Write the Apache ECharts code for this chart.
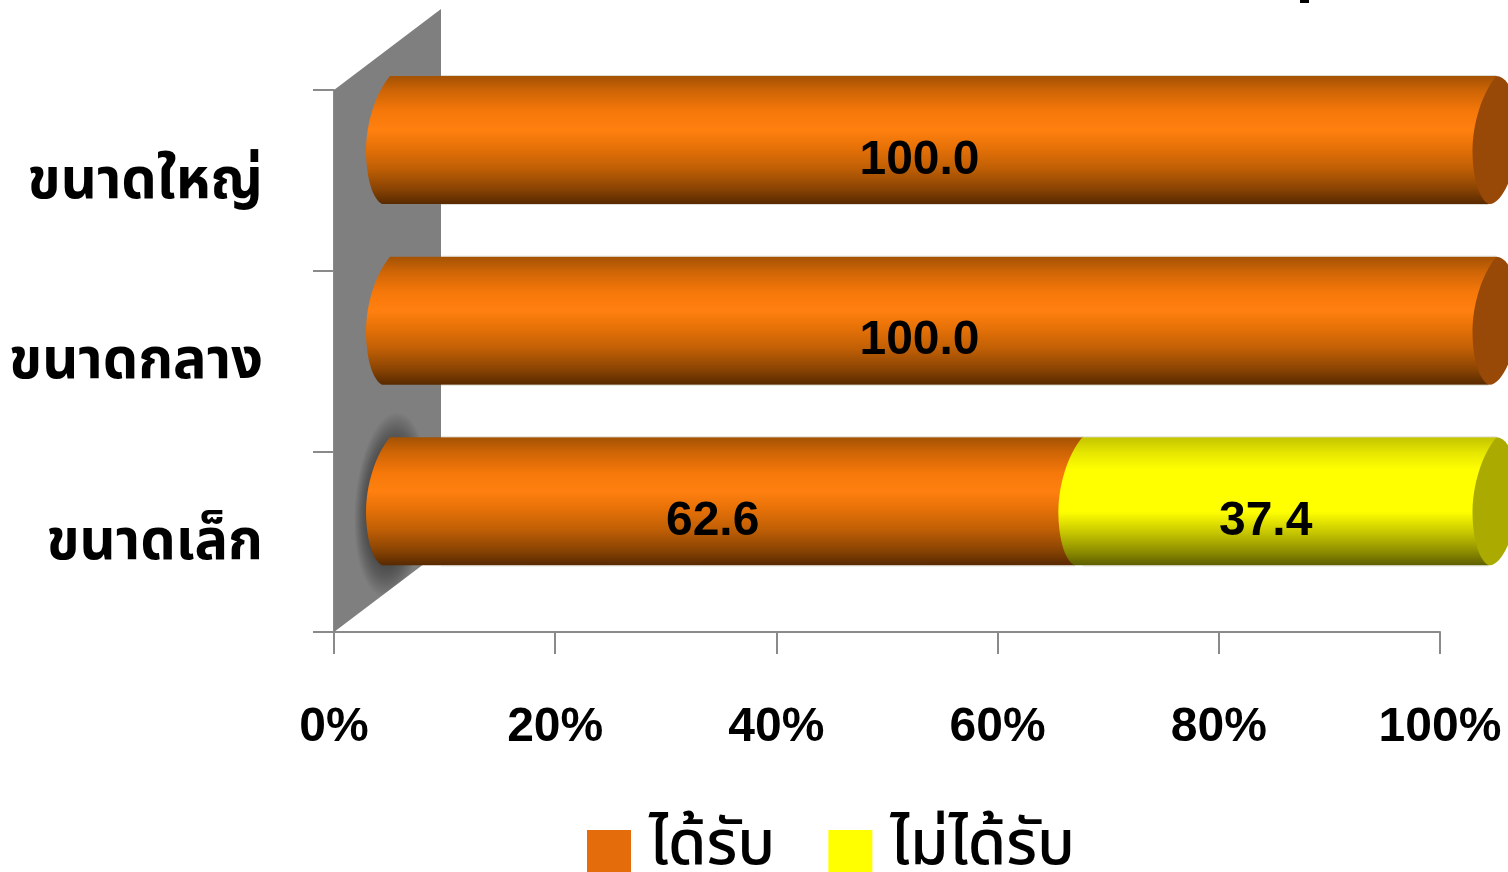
<!DOCTYPE html>
<html><head><meta charset="utf-8">
<style>html,body{margin:0;padding:0;background:#fff;overflow:hidden}#c{width:1508px;height:872px}</style>
<script src="https://cdn.jsdelivr.net/npm/echarts@6/dist/echarts.min.js"></script>
</head><body><div id="c"></div>
<script>
const categories = ['ขนาดเล็ก', 'ขนาดกลาง', 'ขนาดใหญ่'];
const received = [62.6, 100.0, 100.0];
const notReceived = [37.4, 0, 0];
const seriesNames = ['ได้รับ', 'ไม่ได้รับ'];
const xTicks = [0, 20, 40, 60, 80, 100];

const DX = 32, DY = -40, BAR_H = 128;
const axisColor = '#8a8a8a';
const sansFont = '"Liberation Sans", Arial, sans-serif';
const thaiFont = '"Noto Sans Thai", Loma, Garuda, "Noto Sans", "DejaVu Sans", sans-serif';

function grad(stops) {
  return { type: 'linear', x: 0, y: 0, x2: 0, y2: 1, colorStops: stops.map(s => ({ offset: s[0], color: s[1] })) };
}
const orangeGrad = grad([[0, '#a45204'], [0.12, '#cf6506'], [0.28, '#f6780a'], [0.42, '#ff800f'], [0.55, '#e87208'], [0.72, '#c05f05'], [0.88, '#8a4403'], [1, '#582900']]);
const yellowGrad = grad([[0, '#c4c400'], [0.12, '#e6e600'], [0.25, '#ffff00'], [0.58, '#ffff00'], [0.75, '#c4c400'], [0.9, '#8a8a00'], [1, '#5e5e00']]);

function leftCurve(x, yt, yb) {
  const h = yb - yt;
  return `C${x + 9},${yt + h * 0.14} ${x},${yt + h * 0.38} ${x},${yt + h * 0.58}` +
         `C${x},${yt + h * 0.76} ${x + 5},${yb - 6} ${x + 16},${yb}`;
}
function cylinderItem(stackStart, values, fill, capColor) {
  return function (params, api) {
    const i = api.value(0), v = values[i];
    if (!v) return { type: 'group', children: [] };
    const s = stackStart[i];
    const a = api.coord([s, i]), b = api.coord([s + v, i]);
    const x0 = a[0] + DX, x1 = b[0] + DX + 0.5, yt = a[1] + DY - BAR_H / 2 - 0.3, yb = yt + BAR_H;
    const lineStart = Math.max(x0 + 24, 441);
    const edge = { stroke: 'rgba(190,185,165,0.5)', lineWidth: 1 };
    const children = [{
      type: 'path',
      shape: { pathData: `M${x0 + 24},${yt}` + leftCurve(x0, yt, yb) + `L${x1 + 16},${yb}L${x1 + 24},${yt}Z`, x: x0, y: yt, width: x1 + 24 - x0, height: BAR_H, layout: 'center' },
      style: { fill: fill }
    }, {
      type: 'line', shape: { x1: lineStart, y1: yt - 0.5, x2: x1 + 24, y2: yt - 0.5 }, style: edge
    }, {
      type: 'line', shape: { x1: lineStart, y1: yb + 0.5, x2: x1 + 16, y2: yb + 0.5 }, style: edge
    }];
    if (Math.abs(s + v - 100) < 1e-6) {
      const h = BAR_H;
      children.push({
        type: 'path',
        shape: { pathData: `M${x1 + 24},${yt}` + leftCurve(x1, yt, yb) + `C${x1 + 30},${yb + 2} ${x1 + 46},${yt + h * 0.72} ${x1 + 46},${yt + h * 0.42}C${x1 + 46},${yt + h * 0.14} ${x1 + 34},${yt} ${x1 + 24},${yt}Z`, x: x1, y: yt, width: 46, height: BAR_H, layout: 'center' },
        style: { fill: capColor }
      });
    }
    const mid = api.coord([s + v / 2, i]);
    children.push({
      type: 'text', z2: 10,
      style: { x: mid[0] + DX + 0.5, y: mid[1] - 20, text: v.toFixed(1), fill: '#000', font: 'bold 48px ' + sansFont, align: 'center', verticalAlign: 'middle' }
    });
    return { type: 'group', children };
  };
}
function wallItem(params, api) {
  const c = params.coordSys;
  const d = [107, -81];
  const pts = [[c.x, c.y], [c.x + d[0], c.y + d[1]], [c.x + d[0], c.y + c.height + d[1]], [c.x, c.y + c.height]];
  const p = api.coord([0, 0]);
  const cx = p[0] + DX + 25, cy = p[1] + DY + 3;
  const glow = [];
  for (let k = 0; k < 18; k++) {
    const f = 1 - k * 0.024;
    glow.push({
      type: 'ellipse', rotation: -0.08, originX: cx, originY: cy,
      shape: { cx: cx, cy: cy, rx: 36 * f, ry: 92 * f },
      style: { fill: 'rgba(0,0,0,0.033)' }
    });
  }
  return {
    type: 'group',
    children: [
      { type: 'polygon', shape: { points: pts }, style: { fill: '#7f7f7f' } },
      { type: 'group', clipPath: { type: 'polygon', shape: { points: pts } }, children: glow }
    ]
  };
}
const idx = categories.map((_, i) => [i]);
const zeros = categories.map(() => 0);
const option = {
  animation: false,
  backgroundColor: '#fff',
  grid: { left: 334, right: 68, top: 90, bottom: 240, containLabel: false },
  xAxis: {
    type: 'value', min: 0, max: 100, interval: 20,
    axisLine: { show: true, lineStyle: { color: axisColor, width: 2 } },
    axisTick: { show: true, length: 22, lineStyle: { color: axisColor, width: 2 } },
    splitLine: { show: false },
    axisLabel: { formatter: '{value}%', margin: 72, color: '#000', fontFamily: sansFont, fontWeight: 'bold', fontSize: 48, showMaxLabel: true, hideOverlap: false }
  },
  yAxis: {
    type: 'category', data: categories,
    axisLine: { show: true, lineStyle: { color: axisColor, width: 2 } },
    axisTick: { show: true, length: 21, lineStyle: { color: axisColor, width: 2 } },
    splitLine: { show: false },
    axisLabel: { margin: 71, color: '#000', fontFamily: thaiFont, fontWeight: 'bold', fontSize: 56, verticalAlign: 'top', lineHeight: 12 }
  },
  legend: {
    left: 582, top: 815, itemWidth: 44, itemHeight: 42, itemGap: 53,
    icon: 'rect', data: seriesNames,
    selectedMode: false,
    textStyle: { color: '#000', fontFamily: thaiFont, fontWeight: 500, fontSize: 62, padding: [0, 0, 4, 13] }
  },
  series: [
    { type: 'custom', name: 'wall', z: 1, silent: true, renderItem: wallItem, data: [[0]], encode: { y: 0 } },
    { type: 'custom', name: seriesNames[0], z: 3, itemStyle: { color: '#E46C0A' }, renderItem: cylinderItem(zeros, received, orangeGrad, '#984807'), data: idx, encode: { y: 0 } },
    { type: 'custom', name: seriesNames[1], z: 4, itemStyle: { color: '#FFFF00' }, renderItem: cylinderItem(received, notReceived, yellowGrad, '#aaaa00'), data: idx, encode: { y: 0 } }
  ],
  graphic: [{ type: 'rect', left: 1300, top: 0, shape: { width: 9, height: 3 }, style: { fill: '#000' } }]
};
echarts.init(document.getElementById('c'), null, { renderer: 'canvas' }).setOption(option);
</script></body></html>
